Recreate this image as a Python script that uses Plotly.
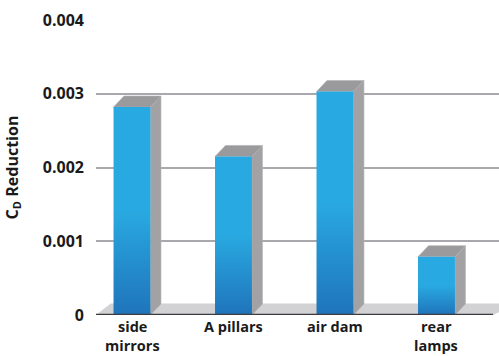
import plotly.graph_objects as go

# Drag reduction by body feature
categories = ["side mirrors", "A pillars", "air dam", "rear lamps"]
label_lines = [["side", "mirrors"], ["A pillars"], ["air dam"], ["rear", "lamps"]]
cd_reduction = [0.00282, 0.00215, 0.00303, 0.00079]
y_ticks = [0, 0.001, 0.002, 0.003, 0.004]
y_ticktext = ["0", "0.001", "0.002", "0.003", "0.004"]

# Geometry of the pseudo-3D columns (in axis units)
X_MIN, X_MAX, X_AXIS_END = -0.3547, 3.616, 3.557
HALF_W = 0.182
DX = 0.1034      # depth offset along x
DY = 0.000149    # depth offset along y

FRONT_DARK = "#1F74BA"
FRONT_LIGHT = "#29A9E1"
SIDE = "#A2A2A4"
TOP = "#9A9A9C"
FLOOR = "#D2D2D4"
TEXT = "#1A1A1A"

fig = go.Figure()

# floor slab
fig.add_trace(go.Scatter(
    x=[X_MIN, X_AXIS_END, X_MAX + 0.2, X_MIN + DX * 1.4, X_MIN],
    y=[0, 0, DY * 1.05, DY * 1.05, 0],
    fill="toself", fillcolor=FLOOR, mode="lines", line=dict(width=0),
    hoverinfo="skip", showlegend=False))

for i, v in enumerate(cd_reduction):
    x0, x1 = i - HALF_W, i + HALF_W
    # side face
    fig.add_trace(go.Scatter(
        x=[x1, x1 + DX, x1 + DX, x1, x1],
        y=[0, DY, v + DY, v, 0],
        fill="toself", fillcolor=SIDE, mode="lines",
        line=dict(width=0.6, color="#B4B4B6"),
        hoverinfo="skip", showlegend=False))
    # top face
    fig.add_trace(go.Scatter(
        x=[x0, x1, x1 + DX, x0 + DX, x0],
        y=[v, v, v + DY, v + DY, v],
        fill="toself", fillcolor=TOP, mode="lines",
        line=dict(width=0.6, color="#B0B0B2"),
        hoverinfo="skip", showlegend=False))
    # front face with vertical gradient
    fig.add_trace(go.Scatter(
        x=[x0, x1, x1, x0, x0],
        y=[0, 0, v, v, 0],
        fill="toself", mode="lines", line=dict(width=0),
        fillgradient=dict(
            type="vertical", start=0, stop=v,
            colorscale=[[0, FRONT_DARK], [0.5, FRONT_LIGHT], [1, FRONT_LIGHT]]),
        name=categories[i],
        hovertemplate="%{fullData.name}: " + f"{v}<extra></extra>",
        showlegend=False))

# front edge of the floor
fig.add_trace(go.Scatter(
    x=[X_MIN, X_AXIS_END], y=[0, 0], mode="lines",
    line=dict(color="#3C3C3E", width=2.5),
    hoverinfo="skip", showlegend=False))

# category labels, tightly stacked lines under each column
for i, lines in enumerate(label_lines):
    for j, line in enumerate(lines):
        fig.add_annotation(
            x=i, xref="x", y=0, yref="paper", yanchor="top",
            yshift=-1 - 19 * j, text=line, showarrow=False, borderpad=0,
            font=dict(size=14.5, weight="bold", color=TEXT))

fig.update_layout(
    width=499, height=356,
    margin=dict(l=96, r=0, t=20, b=41),
    paper_bgcolor="white", plot_bgcolor="white",
    font=dict(family="Open Sans", color=TEXT),
    xaxis=dict(
        range=[X_MIN, X_MAX], tickvals=list(range(len(categories))),
        showticklabels=False, showgrid=False, zeroline=False, showline=False,
        ticks="", automargin=False, fixedrange=True),
    yaxis=dict(
        range=[0, 0.004], tickvals=y_ticks, ticktext=y_ticktext,
        showgrid=True, gridcolor="#A9A9AD", gridwidth=2,
        zeroline=False, showline=False, ticks="",
        ticklabelstandoff=11, automargin=False,
        tickfont=dict(size=16, weight="bold", color=TEXT),
        title=dict(text="C<sub>D</sub> Reduction",
                   font=dict(size=16, weight="bold", color=TEXT),
                   standoff=20),
        fixedrange=True),
)

fig.write_html("out.html")
